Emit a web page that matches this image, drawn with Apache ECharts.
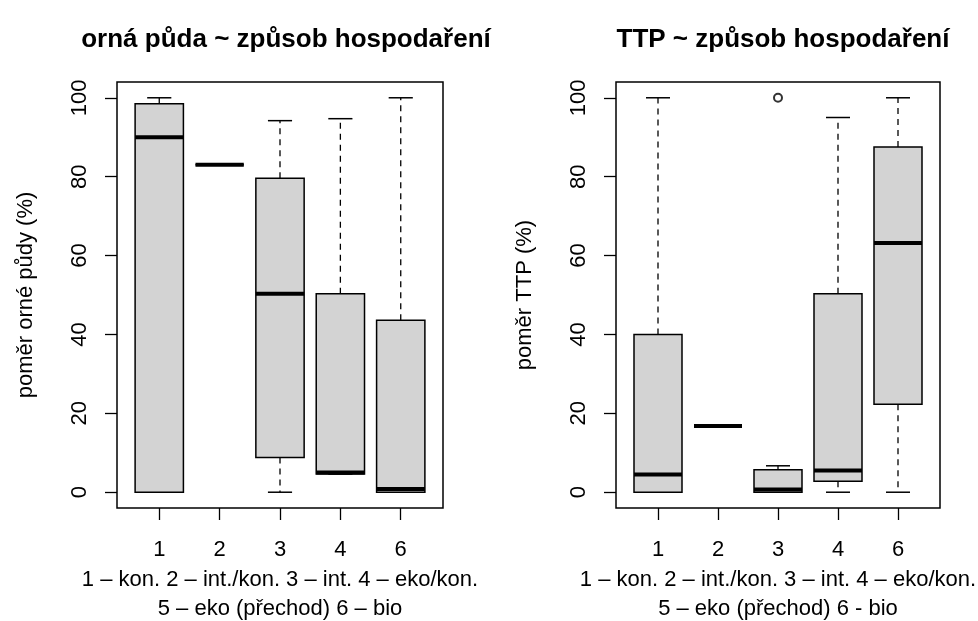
<!DOCTYPE html>
<html>
<head>
<meta charset="utf-8">
<script src="https://cdn.jsdelivr.net/npm/echarts@6/dist/echarts.min.js"></script>
<style>
html,body{margin:0;padding:0;background:#fff;}
#chart{width:978px;height:621px;}
</style>
</head>
<body>
<div id="chart"></div>
<script>
// ---- data ----
var categories = ['1', '2', '3', '4', '6'];
var yTicks = [0, 20, 40, 60, 80, 100];
// [min, Q1, median, Q3, max] per category
var ornaStats = [
  [0, 0, 90, 98.5, 100],
  [83, 83, 83, 83, 83],
  [0, 8.8, 50.3, 79.6, 94.2],
  [4.6, 4.6, 5.0, 50.3, 94.7],
  [0, 0, 0.8, 43.6, 100]
];
var ttpStats = [
  [0, 0, 4.5, 40, 100],
  [16.8, 16.8, 16.8, 16.8, 16.8],
  [0, 0, 0.7, 5.7, 6.7],
  [0, 2.8, 5.5, 50.3, 95],
  [0, 22.3, 63.2, 87.5, 100]
];
var ttpOutliers = [[3, 100]]; // [category position, value]
var ornaOutliers = [];

var titles = ['orná půda ~ způsob hospodaření', 'TTP ~ způsob hospodaření'];
var yNames = ['poměr orné půdy (%)', 'poměr TTP (%)'];
var xNames = [
  '1 – kon. 2 – int./kon. 3 – int. 4 – eko/kon.\n5 – eko (přechod) 6 – bio',
  '1 – kon. 2 – int./kon. 3 – int. 4 – eko/kon.\n5 – eko (přechod) 6 - bio'
];

// ---- chart ----
var FONT = "'Liberation Sans', Arial, sans-serif";
var FS = 22;
var BOX_HALF = 0.4, CAP_HALF = 0.2;
var positions = categories.map(function (c, i) { return i + 1; });

function toItems(stats) {
  return stats.map(function (s, i) { return [i + 1].concat(s); });
}

function renderBox(params, api) {
  var x = api.value(0);
  var mn = api.value(1), q1 = api.value(2), md = api.value(3), q3 = api.value(4), mx = api.value(5);
  var hw = api.size([BOX_HALF, 0])[0];
  var cw = api.size([CAP_HALF, 0])[0];
  var pMin = api.coord([x, mn]), pQ1 = api.coord([x, q1]), pMd = api.coord([x, md]);
  var pQ3 = api.coord([x, q3]), pMax = api.coord([x, mx]);
  var cx = pMd[0];
  var dash = { stroke: '#000', lineWidth: 1.3, lineDash: [6, 5] };
  var solid = { stroke: '#000', lineWidth: 1.5 };
  var ch = [];
  if (mx > q3) ch.push({ type: 'line', shape: { x1: cx, y1: pQ3[1], x2: cx, y2: pMax[1] }, style: dash });
  if (mn < q1) ch.push({ type: 'line', shape: { x1: cx, y1: pQ1[1], x2: cx, y2: pMin[1] }, style: dash });
  ch.push({ type: 'line', shape: { x1: cx - cw, y1: pMax[1], x2: cx + cw, y2: pMax[1] }, style: solid });
  ch.push({ type: 'line', shape: { x1: cx - cw, y1: pMin[1], x2: cx + cw, y2: pMin[1] }, style: solid });
  ch.push({ type: 'rect', shape: { x: cx - hw, y: pQ3[1], width: 2 * hw, height: pQ1[1] - pQ3[1] },
    style: { fill: '#d3d3d3', stroke: '#000', lineWidth: 1.5 } });
  ch.push({ type: 'line', shape: { x1: cx - hw, y1: pMd[1], x2: cx + hw, y2: pMd[1] },
    style: { stroke: '#000', lineWidth: 4 } });
  return { type: 'group', children: ch };
}

function xAxisCfg(gi, name) {
  return {
    type: 'value', gridIndex: gi, min: 0.3, max: 5.7,
    axisLine: { show: false, onZero: false },
    splitLine: { show: false },
    axisTick: { show: true, customValues: positions, length: 12, lineStyle: { color: '#000', width: 1.3 } },
    axisLabel: { customValues: positions, margin: 31, fontSize: FS, fontFamily: FONT, color: '#000',
      formatter: function (v) { return categories[Math.round(v) - 1]; } },
    name: name, nameLocation: 'middle', nameGap: 56,
    nameTextStyle: { fontSize: FS, fontFamily: FONT, color: '#000', lineHeight: 29 }
  };
}
function yAxisCfg(gi, name) {
  return {
    type: 'value', gridIndex: gi, min: -4, max: 104,
    axisLine: { show: false, onZero: false },
    splitLine: { show: false },
    axisTick: { show: true, customValues: yTicks, length: 12, lineStyle: { color: '#000', width: 1.3 } },
    axisLabel: { customValues: yTicks, rotate: 90, margin: 26, fontSize: FS, fontFamily: FONT, color: '#000' },
    name: name, nameLocation: 'middle', nameGap: 80,
    nameTextStyle: { fontSize: FS, fontFamily: FONT, color: '#000' }
  };
}

var gridBase = { top: 82, bottom: 113, show: true, borderColor: '#000', borderWidth: 1.5,
  backgroundColor: 'transparent', containLabel: false, outerBoundsMode: 'none' };

var chart = echarts.init(document.getElementById('chart'), null, { renderer: 'canvas' });
chart.setOption({
  animation: false,
  backgroundColor: '#fff',
  title: [
    { text: titles[0], left: 281, top: 22, textAlign: 'center',
      textStyle: { fontSize: 26, fontWeight: 'bold', fontFamily: FONT, color: '#000' } },
    { text: titles[1], left: 778, top: 22, textAlign: 'center',
      textStyle: { fontSize: 26, fontWeight: 'bold', fontFamily: FONT, color: '#000' } }
  ],
  grid: [
    Object.assign({ left: 117, right: 535 }, gridBase),
    Object.assign({ left: 616, right: 38 }, gridBase)
  ],
  xAxis: [xAxisCfg(0, xNames[0]), xAxisCfg(1, xNames[1])],
  yAxis: [yAxisCfg(0, yNames[0]), yAxisCfg(1, yNames[1])],
  series: [
    { type: 'custom', xAxisIndex: 0, yAxisIndex: 0, renderItem: renderBox, data: toItems(ornaStats),
      encode: { x: 0, y: [1, 2, 3, 4, 5] } },
    { type: 'custom', xAxisIndex: 1, yAxisIndex: 1, renderItem: renderBox, data: toItems(ttpStats),
      encode: { x: 0, y: [1, 2, 3, 4, 5] } },
    { type: 'scatter', xAxisIndex: 1, yAxisIndex: 1, data: ttpOutliers, symbol: 'emptyCircle', symbolSize: 8,
      itemStyle: { color: '#000', borderColor: '#000', borderWidth: 1.2 } },
    { type: 'scatter', xAxisIndex: 0, yAxisIndex: 0, data: ornaOutliers, symbol: 'emptyCircle', symbolSize: 8,
      itemStyle: { color: '#000', borderColor: '#000', borderWidth: 1.2 } }
  ]
});
</script>
</body>
</html>
